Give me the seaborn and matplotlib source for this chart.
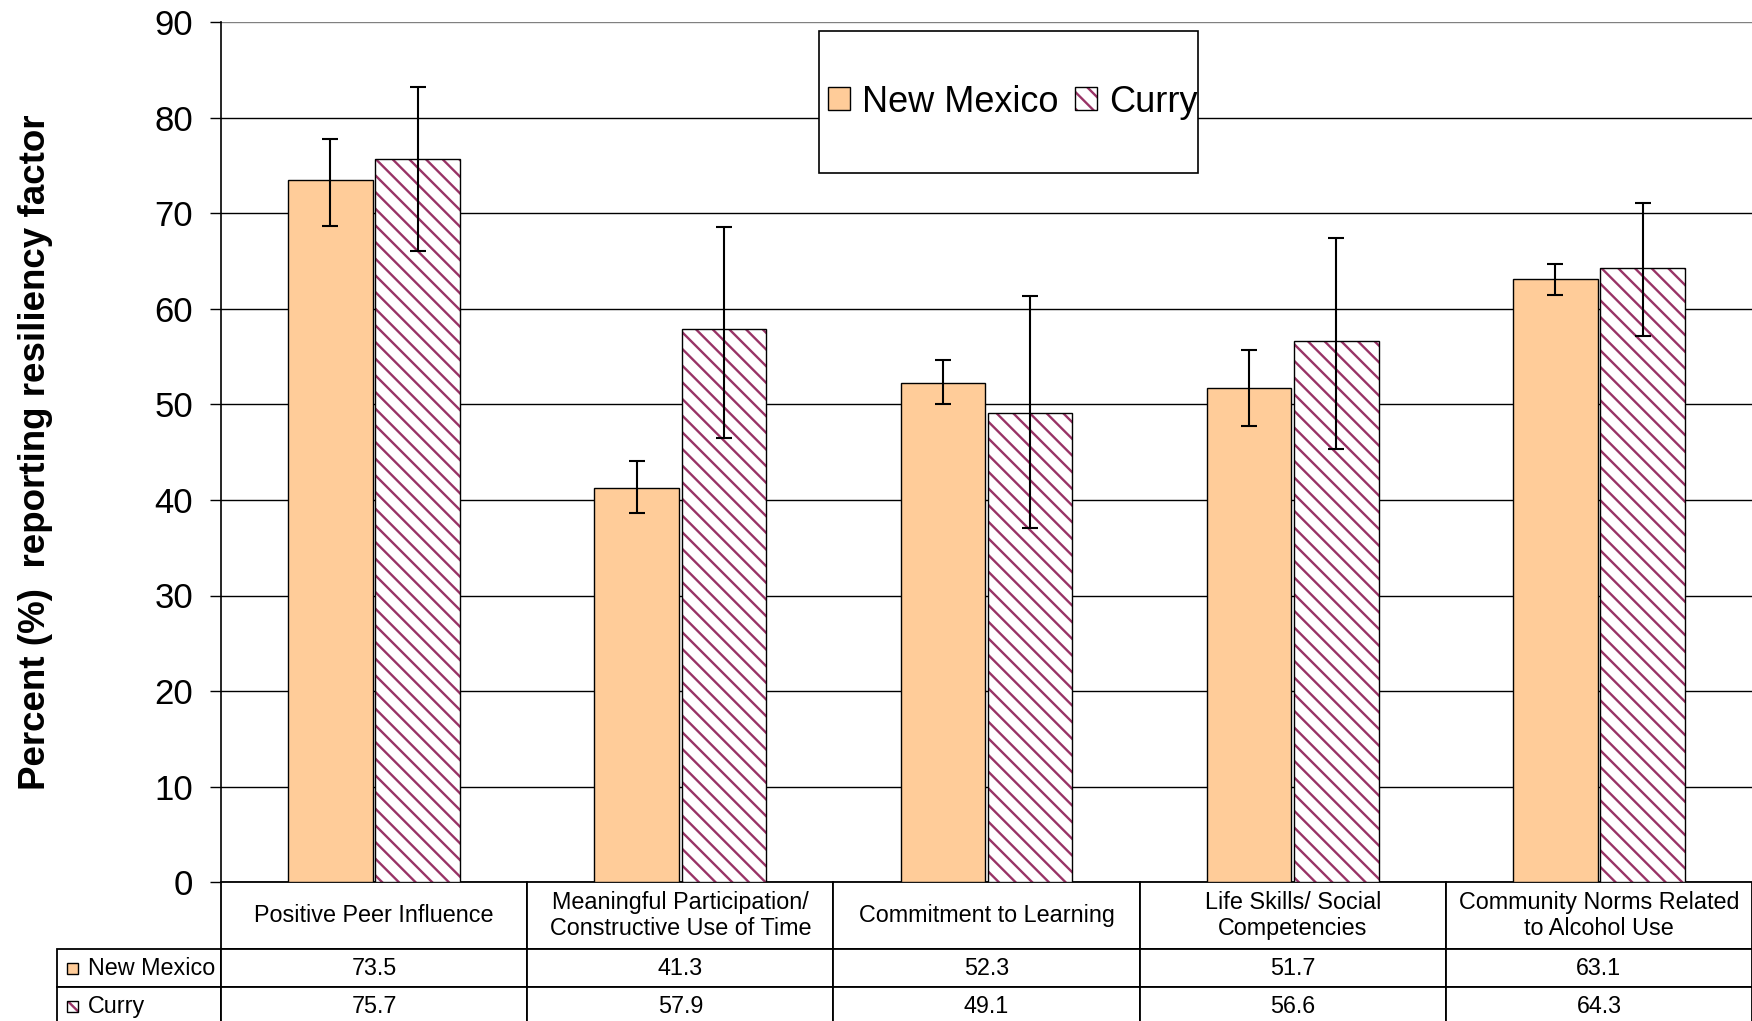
import numpy as np
import pandas as pd
import matplotlib
matplotlib.use("Agg")
import matplotlib.pyplot as plt
from matplotlib.patches import Rectangle, Patch
from matplotlib.legend_handler import HandlerTuple
import seaborn as sns

categories = [
    "Positive Peer Influence",
    "Meaningful Participation/\nConstructive Use of Time",
    "Commitment to Learning",
    "Life Skills/ Social\nCompetencies",
    "Community Norms Related\nto Alcohol Use",
]
groups = ["New Mexico", "Curry"]

new_mexico = [73.5, 41.3, 52.3, 51.7, 63.1]
curry = [75.7, 57.9, 49.1, 56.6, 64.3]

# confidence limits
new_mexico_low = [68.7, 38.6, 50.0, 47.8, 61.5]
new_mexico_high = [77.8, 44.1, 54.7, 55.7, 64.7]
curry_low = [66.1, 46.5, 37.1, 45.3, 57.2]
curry_high = [83.2, 68.6, 61.4, 67.4, 71.1]

y_ticks = list(range(0, 91, 10))

NM_COLOR = "#FFCC99"
CURRY_COLOR = "#993366"
HATCH = "\\\\"

FIG_W, FIG_H = 1752, 1021
AX_LEFT, AX_TOP, AX_BOTTOM = 221, 22.5, 882
AX_H_PX = AX_BOTTOM - AX_TOP
AX_W_PX = FIG_W - AX_LEFT

df = pd.DataFrame({
    "factor": categories * 2,
    "group": [groups[0]] * len(categories) + [groups[1]] * len(categories),
    "percent": new_mexico + curry,
})

sns.set_theme(style="white")
plt.rcParams["font.family"] = ["Liberation Sans", "DejaVu Sans"]
plt.rcParams["hatch.linewidth"] = 1.7
plt.rcParams["text.color"] = "black"
plt.rcParams["axes.labelcolor"] = "black"
plt.rcParams["ytick.color"] = "black"

fig = plt.figure(figsize=(FIG_W / 100, FIG_H / 100), dpi=100)
ax = fig.add_axes([AX_LEFT / FIG_W, 1 - AX_BOTTOM / FIG_H,
                   AX_W_PX / FIG_W, AX_H_PX / FIG_H])

sns.barplot(
    data=df, x="factor", y="percent", hue="group",
    order=categories, hue_order=groups,
    palette=[NM_COLOR, "white"], saturation=1,
    width=0.57, gap=0.03, errorbar=None, legend=False,
    edgecolor="black", linewidth=1, zorder=2, ax=ax
)

# Curry bars: maroon hatch on white with a black outline
for bar in ax.containers[1]:
    bar.set_hatch(HATCH)
    bar.set_edgecolor(CURRY_COLOR)
    bar.set_linewidth(0)
    ax.add_patch(Rectangle((bar.get_x(), bar.get_y()), bar.get_width(), bar.get_height(),
                           fill=False, edgecolor="black", linewidth=1, zorder=2.5))

for cont, vals, lo, hi in zip(ax.containers,
                              [new_mexico, curry],
                              [new_mexico_low, curry_low],
                              [new_mexico_high, curry_high]):
    xs = [b.get_x() + b.get_width() / 2 for b in cont]
    yerr = [np.subtract(vals, lo), np.subtract(hi, vals)]
    ax.errorbar(xs, vals, yerr=yerr, fmt="none", ecolor="black",
                elinewidth=1.5, capsize=5.5, capthick=1.5, zorder=3)

ax.set_xlim(-0.5, len(categories) - 0.5)
ax.set_ylim(0, 90)
ax.set_yticks(y_ticks)
ax.tick_params(axis="y", labelsize=25, length=8, width=1, pad=12,
               color="black", labelcolor="black", left=True)
ax.tick_params(axis="x", bottom=False, labelbottom=False)
ax.set_xlabel("")
ax.set_ylabel("Percent (%)  reporting resiliency factor", fontsize=26.5,
              fontweight="bold", color="black")
ax.yaxis.set_label_coords(-0.11, 0.5)

ax.grid(axis="y", color="black", linewidth=1)
ax.set_axisbelow(True)
ax.yaxis.get_gridlines()[-1].set_color("#808080")
for s in ["top", "right", "bottom"]:
    ax.spines[s].set_visible(False)
ax.spines["left"].set_color("black")
ax.spines["left"].set_linewidth(1.2)

# legend box
ax.add_patch(Rectangle((0.3906, 0.825), 0.2475, 0.165, transform=ax.transAxes,
                       facecolor="white", edgecolor="black", linewidth=1.2, zorder=4))
handles = [
    Patch(facecolor=NM_COLOR, edgecolor="black", linewidth=1),
    (Patch(facecolor="white", edgecolor=CURRY_COLOR, hatch=HATCH, linewidth=0),
     Patch(fill=False, edgecolor="black", linewidth=1)),
]
leg = ax.legend(handles, groups, handler_map={tuple: HandlerTuple(ndivide=1)},
                loc="center", bbox_to_anchor=(0.517, 0.9075), ncol=2, frameon=False,
                fontsize=26, handlelength=0.62, handleheight=0.62,
                handletextpad=0.33, columnspacing=0.45, borderpad=0)
leg.set_zorder(5)

# data table under the axis
label_w = (AX_LEFT - 57) / AX_W_PX
row_px = [67, 38, 38]
row_h = [h / AX_H_PX for h in row_px]
cell_text = [[groups[0]] + [f"{v:.1f}" for v in new_mexico],
             [groups[1]] + [f"{v:.1f}" for v in curry]]
tab = ax.table(cellText=cell_text, colLabels=[""] + categories,
               colWidths=[label_w] + [1 / len(categories)] * len(categories),
               cellLoc="center",
               bbox=[-label_w, -sum(row_h), 1 + label_w, sum(row_h)])
tab.auto_set_font_size(False)
tab.set_fontsize(16.8)
for (r, c), cell in tab.get_celld().items():
    cell.set_height(row_h[r])
    cell.set_linewidth(1.3)
    cell.set_edgecolor("black")
    cell.get_text().set_color("black")
    if c == 0:
        if r == 0:
            cell.set_visible(False)
        else:
            cell.PAD = 0.19
            cell.set_text_props(ha="left")

# swatches next to the row labels
sw = 11
sw_x = (67 - AX_LEFT) / AX_W_PX
for i, (fc, hatch) in enumerate([(NM_COLOR, None), ("white", HATCH)]):
    yc = -(row_h[0] + sum(row_h[1:i + 1]) + row_h[i + 1] / 2)
    y0 = yc - sw / AX_H_PX / 2
    if hatch:
        ax.add_patch(Rectangle((sw_x, y0), sw / AX_W_PX, sw / AX_H_PX, transform=ax.transAxes,
                               facecolor=fc, edgecolor=CURRY_COLOR, hatch=hatch, linewidth=0,
                               clip_on=False, zorder=10))
        fc = "none"
    ax.add_patch(Rectangle((sw_x, y0), sw / AX_W_PX, sw / AX_H_PX, transform=ax.transAxes,
                           facecolor=fc, edgecolor="black", linewidth=1,
                           clip_on=False, zorder=11))

fig.savefig("out.png", dpi=100)
